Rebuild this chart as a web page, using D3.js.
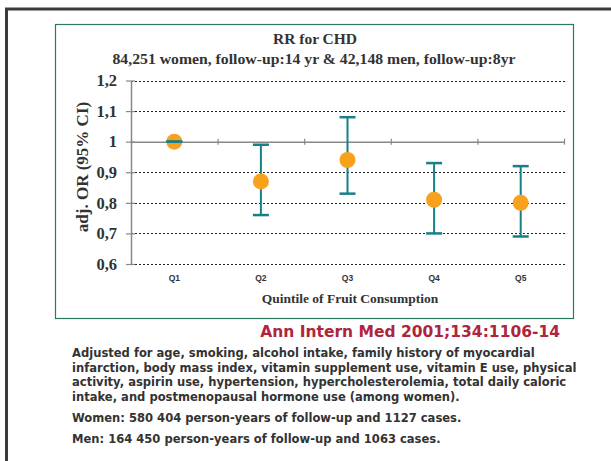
<!DOCTYPE html>
<html>
<head>
<meta charset="utf-8">
<script src="https://cdn.jsdelivr.net/npm/d3@7"></script>
<style>
  body { margin: 0; background: #fff; }
  svg { display: block; }
</style>
</head>
<body>
<div id="chart"></div>
<script>
// Data
const quintiles = ["Q1", "Q2", "Q3", "Q4", "Q5"];
const orValues = [1.0, 0.87, 0.94, 0.81, 0.8];
const ciLow = [1.0, 0.76, 0.83, 0.7, 0.69];
const ciHigh = [1.0, 0.99, 1.08, 0.93, 0.92];
const yTicks = [0.6, 0.7, 0.8, 0.9, 1, 1.1, 1.2];
const notes = [
  "Adjusted for age, smoking, alcohol intake, family history of myocardial",
  "infarction, body mass index, vitamin supplement use, vitamin E use, physical",
  "activity, aspirin use, hypertension, hypercholesterolemia, total daily caloric",
  "intake, and postmenopausal hormone use (among women)."
];
const cases = [
  "Women: 580 404 person-years of follow-up and 1127 cases.",
  "Men: 164 450 person-years of follow-up and 1063 cases."
];

const width = 611,
  height = 461;
const serif = "'Liberation Serif', 'Times New Roman', serif";
const sans = "'DejaVu Sans', Verdana, sans-serif";

const svg = d3
  .select("#chart")
  .append("svg")
  .attr("width", width)
  .attr("height", height);

// Outer slide frame (only top and left edges visible)
svg.append("path")
  .attr("d", "M6.5,461 V9 H611")
  .attr("fill", "none")
  .attr("stroke", "#3a3a3a")
  .attr("stroke-width", 3);

// Green chart frame
svg.append("rect")
  .attr("x", 55.5).attr("y", 24.5)
  .attr("width", 518).attr("height", 294)
  .attr("fill", "none")
  .attr("stroke", "#2b7a5a")
  .attr("stroke-width", 1.2);

// Scales
const plotLeft = 131, plotRight = 564;
const x = d3.scaleBand().domain(quintiles).range([plotLeft, plotRight]);
const xEdges = d3.scaleLinear().domain([0, quintiles.length]).range([plotLeft, plotRight]);
const y = d3.scaleLinear().domain([0.6, 1.2]).range([264, 80.5]);
const fmt = d3.formatLocale({ decimal: ",", thousands: " ", grouping: [3], currency: ["", ""] }).format(".1~f");

// Titles
svg.append("text")
  .attr("x", 315).attr("y", 44)
  .attr("text-anchor", "middle")
  .style("font", `bold 15.5px ${serif}`)
  .attr("fill", "#333")
  .text("RR for CHD");
svg.append("text")
  .attr("x", 314).attr("y", 64)
  .attr("text-anchor", "middle")
  .attr("textLength", 403)
  .attr("lengthAdjust", "spacingAndGlyphs")
  .style("font", `bold 15px ${serif}`)
  .attr("fill", "#333")
  .text("84,251 women, follow-up:14 yr & 42,148 men, follow-up:8yr");

// Dotted gridlines (value 1 carries the category axis instead)
svg.append("g")
  .selectAll("line")
  .data(yTicks.filter((d) => d !== 1))
  .enter()
  .append("line")
  .attr("x1", plotLeft).attr("x2", plotRight + 1)
  .attr("y1", (d) => Math.round(y(d)) + 0.5)
  .attr("y2", (d) => Math.round(y(d)) + 0.5)
  .attr("stroke", "#222")
  .attr("stroke-width", 1)
  .attr("stroke-dasharray", "2,2");

// Y axis
const yAxis = svg.append("g")
  .attr("transform", `translate(${plotLeft},0)`)
  .call(d3.axisLeft(y).tickValues(yTicks).tickFormat(fmt).tickSize(5).tickSizeOuter(0).tickPadding(9));
yAxis.select(".domain").attr("stroke", "#888").attr("stroke-width", 1.5);
yAxis.selectAll(".tick line").attr("x1", 4).attr("stroke", "#888").attr("stroke-width", 1.2);
yAxis.selectAll(".tick text")
  .style("font", `bold 16.5px ${serif}`)
  .attr("fill", "#333");

// Category axis drawn through value 1
const xAxis = svg.append("g")
  .attr("transform", `translate(0,${y(1)})`)
  .call(d3.axisBottom(xEdges).tickValues(d3.range(quintiles.length + 1)).tickFormat("").tickSize(3).tickSizeOuter(0));
xAxis.select(".domain").attr("stroke", "#888").attr("stroke-width", 1.5);
xAxis.selectAll(".tick line").attr("y1", -3).attr("stroke", "#888").attr("stroke-width", 1.2);

// Category labels below the plot
svg.append("g")
  .selectAll("text")
  .data(quintiles)
  .enter()
  .append("text")
  .attr("x", (d) => x(d) + x.bandwidth() / 2)
  .attr("y", 280.5)
  .attr("text-anchor", "middle")
  .style("font", "bold 8.5px 'Liberation Sans', Arial, sans-serif")
  .attr("fill", "#333")
  .text((d) => d);

// Axis titles
svg.append("text")
  .attr("x", 350).attr("y", 303)
  .attr("text-anchor", "middle")
  .style("font", `bold 13.5px ${serif}`)
  .attr("fill", "#333")
  .text("Quintile of Fruit Consumption");
svg.append("text")
  .attr("transform", "translate(88,167) rotate(-90)")
  .attr("text-anchor", "middle")
  .style("font", `bold 17px ${serif}`)
  .attr("fill", "#333")
  .text("adj. OR (95% CI)");

// Error bars, points and caps
const cx = (i) => x(quintiles[i]) + x.bandwidth() / 2;
const teal = "#177f89";
const idx = d3.range(quintiles.length);

svg.append("g")
  .selectAll("line")
  .data(idx)
  .enter()
  .append("line")
  .attr("x1", cx).attr("x2", cx)
  .attr("y1", (i) => y(ciHigh[i]))
  .attr("y2", (i) => y(ciLow[i]))
  .attr("stroke", teal)
  .attr("stroke-width", 2);

svg.append("g")
  .selectAll("circle")
  .data(idx)
  .enter()
  .append("circle")
  .attr("cx", cx)
  .attr("cy", (i) => y(orValues[i]))
  .attr("r", 8)
  .attr("fill", "#f8a11c");

const caps = svg.append("g");
[ciLow, ciHigh].forEach((arr) => {
  caps.selectAll(null)
    .data(idx)
    .enter()
    .append("line")
    .attr("x1", (i) => cx(i) - 8)
    .attr("x2", (i) => cx(i) + 8)
    .attr("y1", (i) => y(arr[i]))
    .attr("y2", (i) => y(arr[i]))
    .attr("stroke", teal)
    .attr("stroke-width", 2.5);
});

// Citation and notes
svg.append("text")
  .attr("x", 560).attr("y", 337)
  .attr("text-anchor", "end")
  .style("font", `bold 15.5px ${sans}`)
  .attr("fill", "#b0243c")
  .text("Ann Intern Med 2001;134:1106-14");

svg.append("g")
  .selectAll("text")
  .data(notes)
  .enter()
  .append("text")
  .attr("x", 72)
  .attr("y", (d, i) => 357 + i * 14.7)
  .style("font", `bold 11.55px ${sans}`)
  .attr("fill", "#333")
  .text((d) => d);

svg.append("g")
  .selectAll("text")
  .data(cases)
  .enter()
  .append("text")
  .attr("x", 72)
  .attr("y", (d, i) => 422 + i * 21)
  .style("font", `bold 11.55px ${sans}`)
  .attr("fill", "#333")
  .text((d) => d);
</script>
</body>
</html>
